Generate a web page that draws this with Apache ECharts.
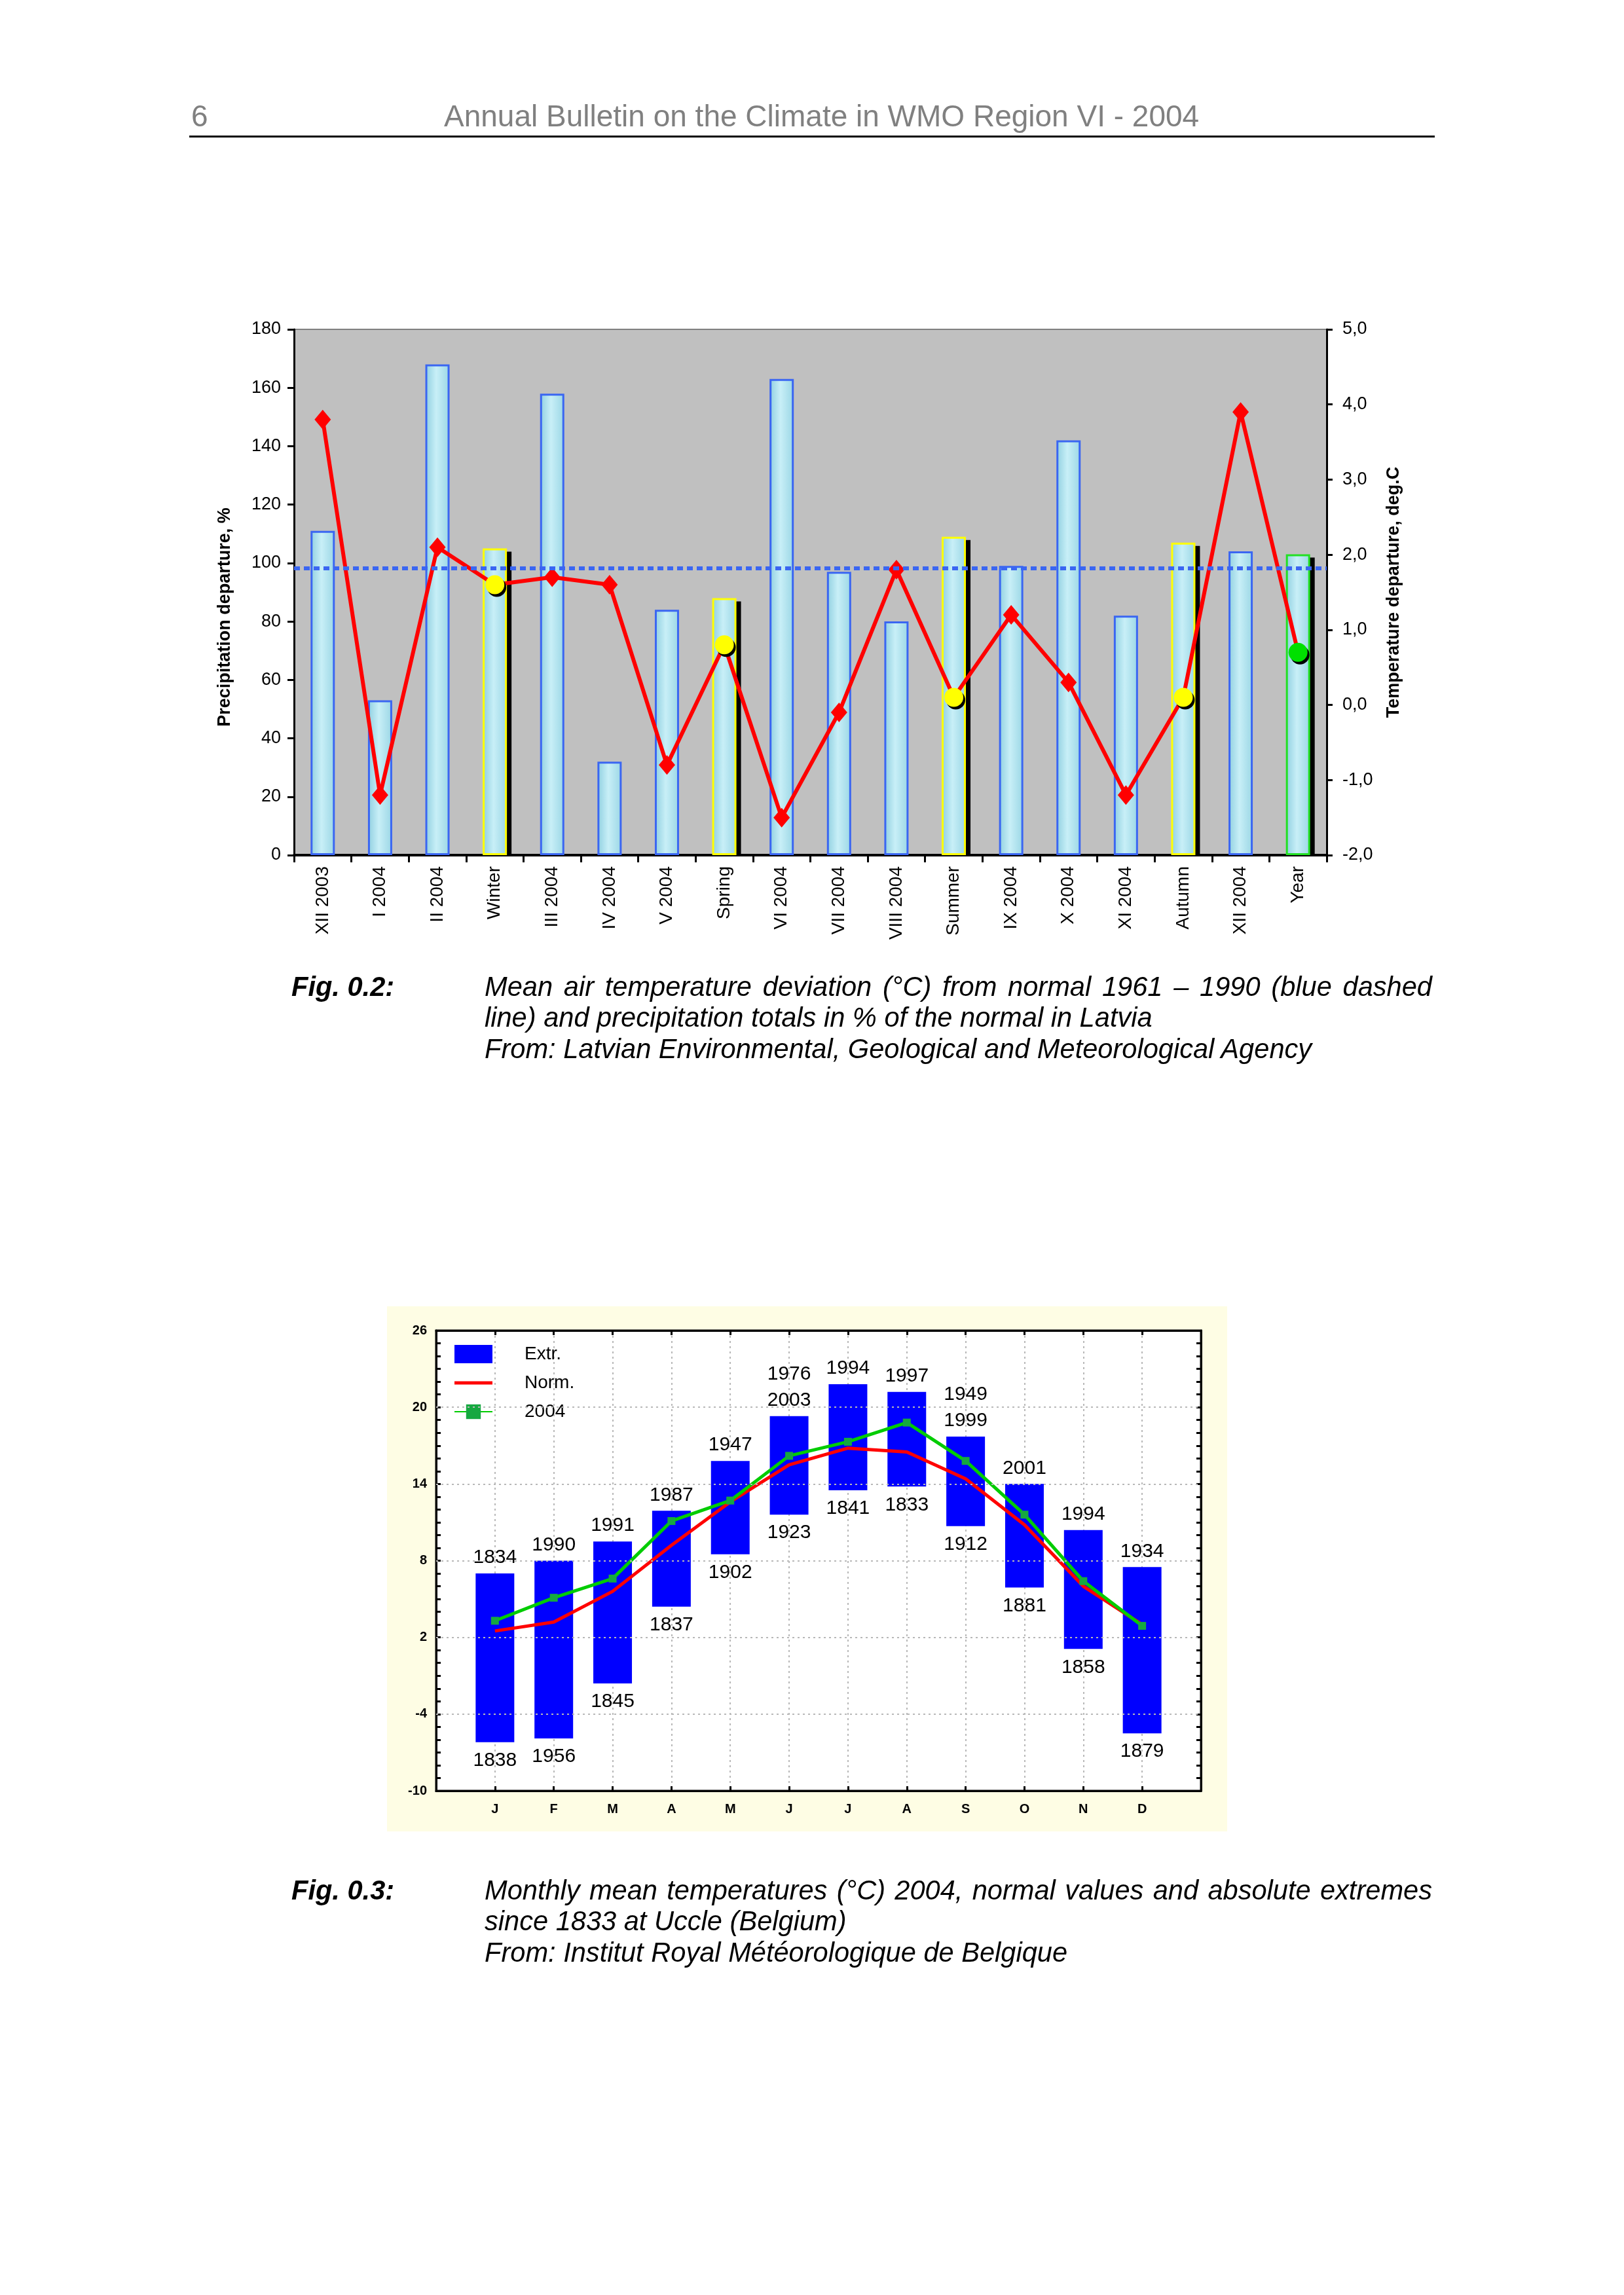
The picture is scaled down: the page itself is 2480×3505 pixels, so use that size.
<!DOCTYPE html>
<html>
<head>
<meta charset="utf-8">
<script src="https://cdn.jsdelivr.net/npm/echarts@6/dist/echarts.min.js"></script>
<style>
  html, body { margin: 0; padding: 0; background: #ffffff; }
  #page { position: relative; width: 2480px; height: 3505px; overflow: hidden; }
  #chart { position: absolute; left: 0; top: 0; width: 2480px; height: 3505px; }
  .txt { position: absolute; font-family: "Liberation Sans", Arial, sans-serif; white-space: nowrap; line-height: 1; }
  .hdr { color: #808080; font-size: 46px; }
  .cap { font-size: 41.6px; font-style: italic; color: #000; }
  .fig { font-size: 41.6px; font-style: italic; font-weight: bold; color: #000; }
  .just { text-align: justify; text-align-last: justify; white-space: normal; }
  #rule { position: absolute; left: 289px; top: 207px; width: 1902px; height: 3px; background: #000; }
</style>
</head>
<body>
<div id="page">
  <div id="chart"></div>
  <div class="txt hdr" style="left:292px; top:154px;">6</div>
  <div class="txt hdr" style="left:678px; top:154px;">Annual Bulletin on the Climate in WMO Region VI - 2004</div>
  <div id="rule"></div>

  <div class="txt fig" style="left:445px; top:1486px;">Fig. 0.2:</div>
  <div class="txt cap just" style="left:740px; top:1486px; width:1447px;">Mean air temperature deviation (°C) from normal 1961 – 1990 (blue dashed</div>
  <div class="txt cap" style="left:740px; top:1533px;">line) and precipitation totals in % of the normal in Latvia</div>
  <div class="txt cap" style="left:740px; top:1581px;">From: Latvian Environmental, Geological and Meteorological Agency</div>

  <div class="txt fig" style="left:445px; top:2866px;">Fig. 0.3:</div>
  <div class="txt cap just" style="left:740px; top:2866px; width:1447px;">Monthly mean temperatures (°C) 2004, normal values and absolute extremes</div>
  <div class="txt cap" style="left:740px; top:2913px;">since 1833 at Uccle (Belgium)</div>
  <div class="txt cap" style="left:740px; top:2961px;">From: Institut Royal Météorologique de Belgique</div>
</div>
<script>
// ---------- Fig. 0.2 data (Latvia) ----------
const categories = ['XII 2003','I 2004','II 2004','Winter','III 2004','IV 2004','V 2004','Spring',
  'VI 2004','VII 2004','VIII 2004','Summer','IX 2004','X 2004','XI 2004','Autumn','XII 2004','Year'];
const precipitation = [111, 53, 168, 105, 158, 32, 84, 88, 163, 97, 80, 109, 99, 142, 82, 107, 104, 103];
const temperature = [3.8, -1.2, 2.1, 1.6, 1.7, 1.6, -0.8, 0.8, -1.5, -0.1, 1.8, 0.1, 1.2, 0.3, -1.2, 0.1, 3.9, 0.7];
const seasons = ['Winter', 'Spring', 'Summer', 'Autumn'];
const yearCategory = 'Year';
const normalLevel = 98.3;          // blue dashed line, on the precipitation scale
const precipAxis = { min: 0, max: 180, step: 20 };
const tempAxis = { min: -2, max: 5, step: 1 };

// ---------- Fig. 0.3 data (Uccle) ----------
const months = ['J','F','M','A','M','J','J','A','S','O','N','D'];
const extrMax = [7.0, 8.0, 9.5, 11.9, 15.8, 19.3, 21.8, 21.2, 17.7, 14.0, 10.4, 7.5];
const extrMin = [-6.2, -5.9, -1.6, 4.4, 8.5, 11.6, 13.5, 13.8, 10.7, 5.9, 1.1, -5.5];
const maxYears = ['1834','1990','1991','1987','1947','1976\n2003','1994','1997','1949\n1999','2001','1994','1934'];
const minYears = ['1838','1956','1845','1837','1902','1923','1841','1833','1912','1881','1858','1879'];
const normTemp = [2.5, 3.2, 5.6, 9.2, 12.6, 15.5, 16.8, 16.5, 14.4, 10.8, 6.0, 3.0];
const temp2004 = [3.3, 5.1, 6.6, 11.1, 12.7, 16.2, 17.3, 18.8, 15.8, 11.6, 6.4, 2.9];
const uccleTicks = [-10, -4, 2, 8, 14, 20, 26];

const FONT = '"Liberation Sans", Arial, sans-serif';
const BAR_W = 37;

// ---------- build chart 1 series data ----------
const barFill = {
  type: 'linear', x: 0, y: 0, x2: 1, y2: 0,
  colorStops: [
    { offset: 0, color: '#8fcfe0' },
    { offset: 0.45, color: '#c8eff7' },
    { offset: 1, color: '#9ad6e5' }
  ]
};
const isSummary = c => seasons.includes(c) || c === yearCategory;
const barData = precipitation.map((v, i) => {
  const c = categories[i];
  if (isSummary(c)) {
    return { value: v, itemStyle: { borderColor: c === yearCategory ? '#22e022' : '#ffff00' } };
  }
  return v;
});
// shadow behind the seasonal / annual bars
const shadowData = [];
precipitation.forEach((v, i) => { if (isSummary(categories[i])) shadowData.push([i, v]); });

const tempData = temperature.map((v, i) => {
  const c = categories[i];
  if (isSummary(c)) {
    return {
      value: v,
      symbol: 'circle',
      symbolSize: 29,
      itemStyle: {
        color: c === yearCategory ? '#00e000' : '#ffff00',
        shadowColor: '#000', shadowBlur: 0, shadowOffsetX: 3, shadowOffsetY: 4
      }
    };
  }
  return v;
});

// ---------- chart 2 derived data ----------
const extrData = months.map((m, i) => [i + 1, extrMin[i], extrMax[i]]);
const normData = months.map((m, i) => [i + 1, normTemp[i]]);
const t2004Data = months.map((m, i) => [i + 1, temp2004[i]]);
const hGrid = uccleTicks.slice(1, -1).map(v => ({ yAxis: v }));

const chart = echarts.init(document.getElementById('chart'), null, { renderer: 'canvas' });

const option = {
  animation: false,
  backgroundColor: '#ffffff',
  textStyle: { fontFamily: FONT },
  graphic: {
    elements: [{
      type: 'rect', z: -10, silent: true,
      shape: { x: 591, y: 1995, width: 1283, height: 802 },
      style: { fill: '#fefde4' }
    }]
  },
  legend: {
    orient: 'vertical',
    left: 688, top: 2049,
    itemWidth: 58, itemHeight: 28, itemGap: 16,
    selectedMode: false,
    textStyle: { fontSize: 28, color: '#000', fontFamily: FONT, padding: [0, 0, 0, 44] },
    data: [
      { name: 'Extr.', icon: 'rect' },
      { name: 'Norm.', icon: 'path://M0,0 H58 V5 H0 Z' },
      { name: '2004' }
    ]
  },
  grid: [
    { left: 449, top: 503, width: 1577, height: 803, show: true,
      backgroundColor: '#c0c0c0', borderColor: '#808080', borderWidth: 2 },
    { left: 666, top: 2032, width: 1168, height: 703, show: true,
      backgroundColor: '#ffffff', borderColor: '#000000', borderWidth: 3 }
  ],
  xAxis: [
    { gridIndex: 0, type: 'category', data: categories,
      axisLine: { lineStyle: { color: '#000', width: 4 } },
      axisTick: { show: true, length: 11, lineStyle: { color: '#000', width: 3 } },
      axisLabel: { rotate: 90, interval: 0, fontSize: 28, color: '#000', margin: 17, fontFamily: FONT },
      splitLine: { show: false } },
    { gridIndex: 1, type: 'value', min: 0, max: months.length + 1, interval: 1, position: 'bottom',
      axisLine: { onZero: false, lineStyle: { color: '#000', width: 3 } },
      axisTick: { inside: true, length: 7, lineStyle: { color: '#000', width: 3 } },
      axisLabel: { fontSize: 20, fontWeight: 'bold', color: '#000', margin: 18, fontFamily: FONT,
        formatter: v => (v >= 1 && v <= months.length) ? months[v - 1] : '' },
      splitLine: { show: true, lineStyle: { color: '#b8b8b8', width: 2, type: [3, 5] } } },
    { gridIndex: 1, type: 'value', min: 0, max: months.length + 1, interval: 1, position: 'top',
      axisLine: { onZero: false, lineStyle: { color: '#000', width: 3 } },
      axisTick: { inside: true, length: 7, lineStyle: { color: '#000', width: 3 } },
      axisLabel: { show: false }, splitLine: { show: false } }
  ],
  yAxis: [
    { gridIndex: 0, type: 'value', min: precipAxis.min, max: precipAxis.max, interval: precipAxis.step,
      name: 'Precipitation departure, %', nameLocation: 'middle', nameGap: 92,
      nameTextStyle: { fontSize: 27, fontWeight: 'bold', color: '#000', fontFamily: FONT, padding: [0, 76, 0, 0] },
      axisLine: { show: true, onZero: false, lineStyle: { color: '#000', width: 3 } },
      axisTick: { show: true, length: 10, lineStyle: { color: '#000', width: 3 } },
      axisLabel: { fontSize: 27, color: '#000', margin: 20, fontFamily: FONT },
      splitLine: { show: false } },
    { gridIndex: 0, type: 'value', position: 'right', min: tempAxis.min, max: tempAxis.max, interval: tempAxis.step,
      name: 'Temperature departure, deg.C', nameLocation: 'middle', nameGap: 89,
      nameTextStyle: { fontSize: 27, fontWeight: 'bold', color: '#000', fontFamily: FONT },
      axisLine: { show: true, onZero: false, lineStyle: { color: '#000', width: 3 } },
      axisTick: { show: true, length: 9, lineStyle: { color: '#000', width: 3 } },
      axisLabel: { fontSize: 27, color: '#000', margin: 24, fontFamily: FONT,
        formatter: v => v.toFixed(1).replace('.', ',') },
      splitLine: { show: false } },
    { gridIndex: 1, type: 'value', min: uccleTicks[0], max: uccleTicks[uccleTicks.length - 1], interval: 1,
      axisLine: { show: true, onZero: false, lineStyle: { color: '#000', width: 3 } },
      axisTick: { show: true, inside: true, length: 7, lineStyle: { color: '#000', width: 3 } },
      axisLabel: { fontSize: 20, fontWeight: 'bold', color: '#000', margin: 14, fontFamily: FONT,
        formatter: v => uccleTicks.includes(v) ? String(v) : '' },
      splitLine: { show: false } },
    { gridIndex: 1, type: 'value', position: 'right', min: uccleTicks[0], max: uccleTicks[uccleTicks.length - 1], interval: 1,
      axisLine: { show: true, onZero: false, lineStyle: { color: '#000', width: 3 } },
      axisTick: { show: true, inside: true, length: 7, lineStyle: { color: '#000', width: 3 } },
      axisLabel: { show: false }, splitLine: { show: false } }
  ],
  series: [
    // ----- chart 1 -----
    { name: 'shadow', type: 'custom', xAxisIndex: 0, yAxisIndex: 0, z: 1, silent: true,
      data: shadowData,
      renderItem: function (params, api) {
        const pt = api.coord([api.value(0), api.value(1)]);
        const pb = api.coord([api.value(0), 0]);
        return { type: 'rect',
          shape: { x: pt[0] - BAR_W / 2 + 7, y: pt[1] + 5, width: BAR_W, height: pb[1] - pt[1] - 5 },
          style: { fill: '#000' } };
      } },
    { name: 'Precipitation', type: 'bar', xAxisIndex: 0, yAxisIndex: 0, z: 2,
      barWidth: BAR_W, data: barData,
      itemStyle: { color: barFill, borderColor: '#3a66f2', borderWidth: 3 } },
    { name: 'normal', type: 'line', xAxisIndex: 0, yAxisIndex: 0, z: 3, data: [],
      markLine: { silent: true, symbol: 'none', label: { show: false },
        lineStyle: { color: '#3a66f2', width: 6, type: [9, 6] },
        data: [{ yAxis: normalLevel }] } },
    { name: 'Temperature', type: 'line', xAxisIndex: 0, yAxisIndex: 1, z: 4,
      data: tempData, symbol: 'diamond', symbolSize: [25, 30],
      lineStyle: { color: '#ff0000', width: 6 },
      itemStyle: { color: '#ff0000' } },
    // ----- chart 2 -----
    { name: 'grid', type: 'line', xAxisIndex: 1, yAxisIndex: 2, z: 1, data: [],
      markLine: { silent: true, symbol: 'none', label: { show: false },
        lineStyle: { color: '#b8b8b8', width: 2, type: [3, 5] }, data: hGrid } },
    { name: 'Extr.', type: 'custom', xAxisIndex: 1, yAxisIndex: 2, z: 2,
      itemStyle: { color: '#0000ff' },
      encode: { x: 0, y: [1, 2] },
      data: extrData,
      renderItem: function (params, api) {
        const x = api.value(0), lo = api.value(1), hi = api.value(2);
        const pt = api.coord([x, hi]);
        const pb = api.coord([x, lo]);
        const w = 59;
        const i = params.dataIndex;
        return {
          type: 'group',
          children: [
            { type: 'rect', shape: { x: pt[0] - w / 2, y: pt[1], width: w, height: pb[1] - pt[1] },
              style: { fill: '#0000ff' } },
            { type: 'text', style: { text: maxYears[i], x: pt[0], y: pt[1] - 4, align: 'center',
                verticalAlign: 'bottom', fontSize: 30, lineHeight: 40, fontFamily: FONT, fill: '#000' } },
            { type: 'text', style: { text: minYears[i], x: pb[0], y: pb[1] + 8, align: 'center',
                verticalAlign: 'top', fontSize: 30, lineHeight: 40, fontFamily: FONT, fill: '#000' } }
          ]
        };
      } },
    { name: 'Norm.', type: 'line', xAxisIndex: 1, yAxisIndex: 2, z: 3,
      data: normData, symbol: 'none',
      lineStyle: { color: '#ff0000', width: 5 }, itemStyle: { color: '#ff0000' } },
    { name: '2004', type: 'line', xAxisIndex: 1, yAxisIndex: 2, z: 4,
      data: t2004Data, symbol: 'rect', symbolSize: 12,
      lineStyle: { color: '#00cc00', width: 5 }, itemStyle: { color: '#16a840' } }
  ]
};
chart.setOption(option);
</script>
</body>
</html>
